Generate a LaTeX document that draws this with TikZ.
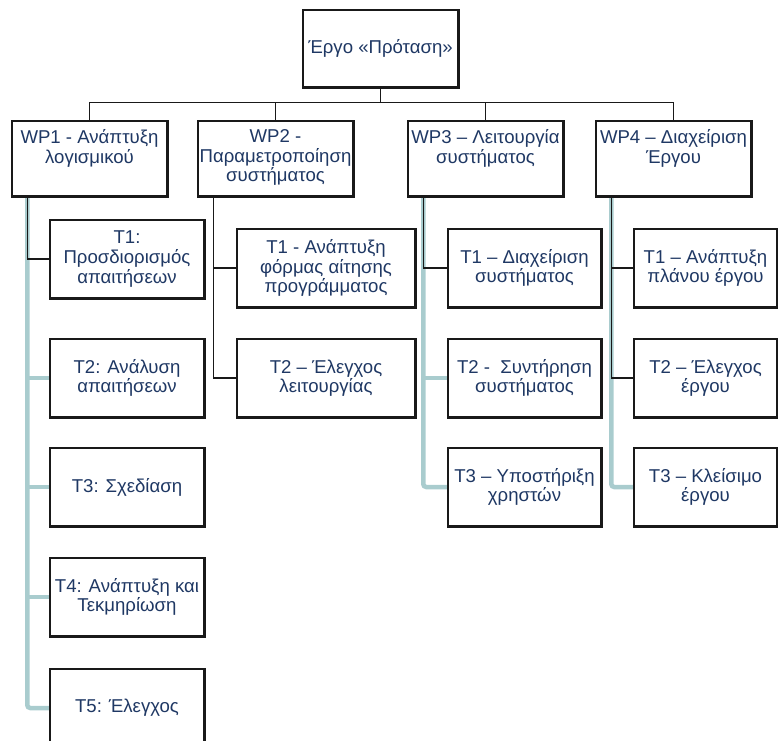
\documentclass[tikz,border=0pt]{standalone}
\usepackage{fontspec}
\setmainfont{Liberation Sans}
\definecolor{txtblue}{RGB}{31,56,100}
\definecolor{branchteal}{RGB}{169,204,206}
% top-aligned text block for the work-package boxes
\newcommand\wptxt[1]{\parbox[c][58pt][t]{154pt}{\centering #1}}

\begin{document}
\begin{tikzpicture}[x=1pt,y=-1pt,
  box/.style={draw=black!90, line width=1.5pt, fill=white, text=txtblue,
    align=center, inner sep=0pt, font=\fontsize{18.6}{19.6}\selectfont},
  rootbox/.style={box, minimum width=155pt, minimum height=77pt},
  wpbox/.style={box, minimum width=155pt, minimum height=75pt},
  taskbox/.style={box, minimum width=154pt, minimum height=78pt},
  widebox/.style={box, minimum width=178pt, minimum height=78pt},
  link/.style={draw=black!90, line width=1.5pt},
  branch/.style={draw=branchteal, line width=4.5pt, rounded corners=3pt},
  outline/.style={draw=black!90, line width=1.5pt}
]
\useasboundingbox (0,0) rectangle (778,740);

% root and work packages
\node[rootbox] (root) at (380.5,48.5) {Έργο «Πρόταση»};
\node[wpbox] (wp1) at (89.5,158.5) {\wptxt{WP1 - Ανάπτυξη\\λογισμικού}};
\node[wpbox] (wp2) at (275.5,158.5) {\wptxt{WP2 -\\Παραμετροποίηση\\συστήματος}};
\node[wpbox] (wp3) at (485.5,158.5) {\wptxt{WP3 – Λειτουργία\\συστήματος}};
\node[wpbox] (wp4) at (673.5,158.5) {\wptxt{WP4 – Διαχείριση\\Έργου}};

% tasks of WP1
\node[taskbox] (t11) at (127,259) {T1:\\Προσδιορισμός\\απαιτήσεων};
\node[taskbox] (t12) at (127,378) {T2: Ανάλυση\\απαιτήσεων};
\node[taskbox] (t13) at (127,487) {T3: Σχεδίαση};
\node[taskbox] (t14) at (127,597) {T4: Ανάπτυξη και\\Τεκμηρίωση};
\node[taskbox] (t15) at (127,708) {T5: Έλεγχος};

% tasks of WP2
\node[widebox] (t21) at (326,268) {T1 - Ανάπτυξη\\φόρμας αίτησης\\προγράμματος};
\node[widebox] (t22) at (326,378) {T2 – Έλεγχος\\λειτουργίας};

% tasks of WP3
\node[taskbox, minimum width=153pt] (t31) at (524.5,268) {T1 – Διαχείριση\\συστήματος};
\node[taskbox, minimum width=153pt] (t32) at (524.5,378) {T2 -\ \ Συντήρηση\\συστήματος};
\node[taskbox, minimum width=153pt] (t33) at (524.5,487) {T3 – Υποστήριξη\\χρηστών};

% tasks of WP4
\node[taskbox, minimum width=143pt] (t41) at (705.5,268) {T1 – Ανάπτυξη\\πλάνου έργου};
\node[taskbox, minimum width=143pt] (t42) at (705.5,378) {T2 – Έλεγχος\\έργου};
\node[taskbox, minimum width=143pt] (t43) at (705.5,487) {T3 – Κλείσιμο\\έργου};

% drop points under each work package
\coordinate (s1) at ([xshift=16pt]wp1.south west);
\coordinate (s2) at ([xshift=16pt]wp2.south west);
\coordinate (s3) at ([xshift=16pt]wp3.south west);
\coordinate (s4) at ([xshift=16pt]wp4.south west);

% bus from the root to the work packages
\foreach \w in {wp1,wp2,wp3,wp4}
  \draw[link] (root.south) |- ([yshift=18pt]\w.north) -- (\w.north);

% light branches
\draw[branch] (s1) |- (t15.west);
\foreach \t in {t12,t13,t14} \draw[branch] (s1 |- \t.west) -- (\t.west);
\draw[branch] (s3) |- (t33.west);
\draw[branch] (s3 |- t32.west) -- (t32.west);
\draw[branch] (s4) |- (t43.west);

% dark branches
\draw[link] (s1) |- (t11.west);
\draw[link] (s2) |- (t21.west);
\draw[link] (s2) |- (t22.west);
\draw[link] (s3) |- (t31.west);
\draw[link] (s4) |- (t41.west);
\draw[link] (s4) |- (t42.west);

% box outlines drawn over the connector ends
\foreach \n in {root,wp1,wp2,wp3,wp4,t11,t12,t13,t14,t15,t21,t22,t31,t32,t33,t41,t42,t43}
  \draw[outline] (\n.north west) rectangle (\n.south east);
\end{tikzpicture}
\end{document}
